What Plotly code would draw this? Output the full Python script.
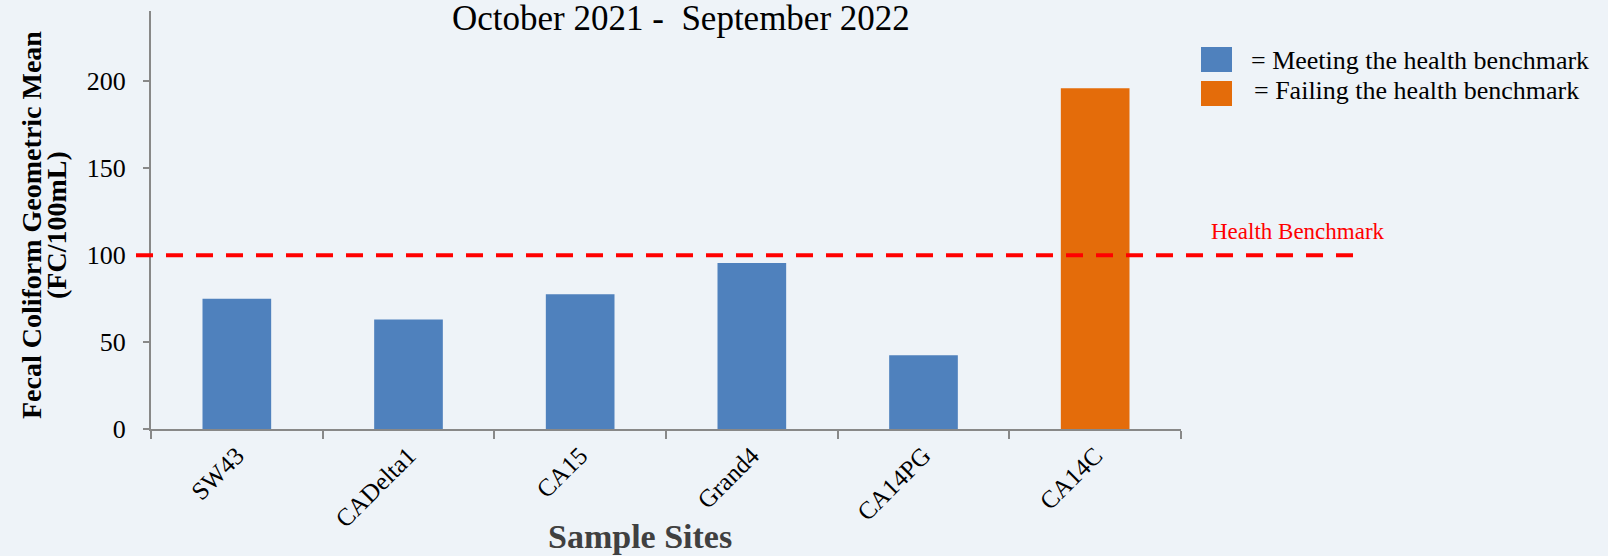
import plotly.graph_objects as go

sites = ["SW43", "CADelta1", "CA15", "Grand4", "CA14PG", "CA14C"]
geo_means = [75, 63, 77.5, 95.5, 42.5, 196]
benchmark = 100
meet_color = "#4F81BD"
fail_color = "#E46C0A"
colors = [fail_color if v > benchmark else meet_color for v in geo_means]

serif = "Liberation Serif"
bg = "#EEF3F8"

fig = go.Figure()
fig.add_trace(go.Bar(x=sites, y=geo_means, marker=dict(color=colors, line=dict(width=0)),
                     width=0.4, showlegend=False))

W, H = 1608, 556
L, R, T, B = 151, 427, 11, 127
pw = W - L - R

def px2paper(x):
    return (x - L) / pw

def py2paper(y):
    return (H - B - y) / (H - T - B)

fig.update_layout(
    width=W, height=H,
    margin=dict(l=L, r=R, t=T, b=B, pad=0),
    paper_bgcolor=bg, plot_bgcolor=bg,
    font=dict(family=serif, color="#000000"),
    showlegend=False,
    xaxis=dict(type="category", range=[-0.5, 5.5], showline=True, linecolor="#888888", linewidth=2,
               ticks="outside", tickson="boundaries", ticklen=8, tickwidth=2, tickcolor="#888888",
               tickangle=-45, tickfont=dict(size=25, family=serif), showgrid=False, zeroline=False),
    yaxis=dict(range=[0, 240.5], showline=True, linecolor="#888888", linewidth=2,
               ticks="outside", ticklen=6, tickwidth=2, tickcolor="#888888",
               tickvals=[0, 50, 100, 150, 200], tickfont=dict(size=26, family=serif),
               ticklabelstandoff=12, showgrid=False, zeroline=False),
    shapes=[
        dict(type="line", xref="paper", yref="y", x0=px2paper(136), x1=px2paper(1358),
             y0=benchmark, y1=benchmark, line=dict(color="#FF0000", width=4, dash="17px,13px")),
        dict(type="rect", xref="paper", yref="paper", x0=px2paper(1201), x1=px2paper(1232),
             y0=py2paper(72), y1=py2paper(47), fillcolor=meet_color, line=dict(width=0)),
        dict(type="rect", xref="paper", yref="paper", x0=px2paper(1201), x1=px2paper(1232),
             y0=py2paper(106), y1=py2paper(81), fillcolor=fail_color, line=dict(width=0)),
    ],
    annotations=[
        dict(text="October 2021 -  September 2022", xref="paper", yref="paper",
             x=px2paper(681), y=py2paper(18), showarrow=False, xanchor="center", yanchor="middle",
             font=dict(size=35, family=serif, color="#000000")),
        dict(text="<b>Fecal Coliform Geometric Mean</b>", xref="paper", yref="paper",
             x=px2paper(31), y=py2paper(225), showarrow=False, textangle=-90,
             xanchor="center", yanchor="middle",
             font=dict(size=28, family=serif, color="#000000")),
        dict(text="<b>(FC/100mL)</b>", xref="paper", yref="paper",
             x=px2paper(56), y=py2paper(225), showarrow=False, textangle=-90,
             xanchor="center", yanchor="middle",
             font=dict(size=28, family=serif, color="#000000")),
        dict(text="<b>Sample Sites</b>", xref="paper", yref="paper",
             x=px2paper(640), y=py2paper(536), showarrow=False, xanchor="center", yanchor="middle",
             font=dict(size=34, family=serif, color="#404040")),
        dict(text="Health Benchmark", xref="paper", yref="paper",
             x=px2paper(1209), y=py2paper(231), showarrow=False, xanchor="left", yanchor="middle",
             font=dict(size=23, family=serif, color="#FF0000")),
        dict(text="= Meeting the health benchmark", xref="paper", yref="paper",
             x=px2paper(1249), y=py2paper(61), showarrow=False, xanchor="left", yanchor="middle",
             font=dict(size=26, family=serif, color="#000000")),
        dict(text="= Failing the health benchmark", xref="paper", yref="paper",
             x=px2paper(1252), y=py2paper(90), showarrow=False, xanchor="left", yanchor="middle",
             font=dict(size=26, family=serif, color="#000000")),
    ],
)

fig.write_html("out.html", config={"displayModeBar": False},
               post_script="document.body.style.margin='0px';")
